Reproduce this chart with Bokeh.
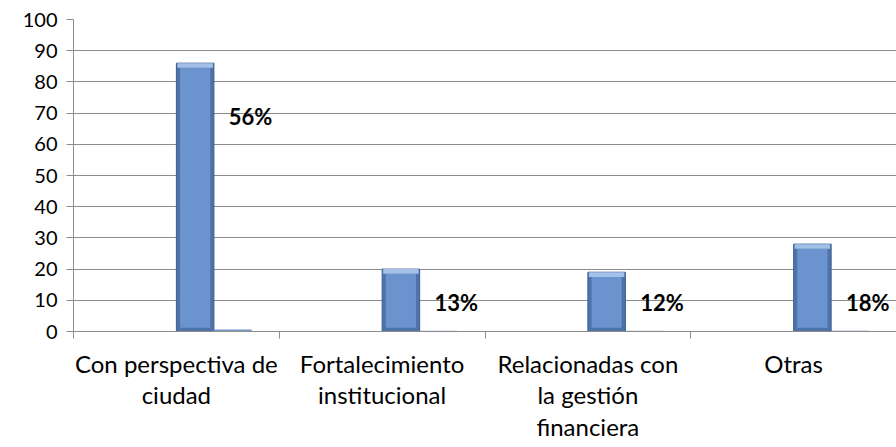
from bokeh.plotting import figure
from bokeh.models import Range1d, FixedTicker
from bokeh.embed import file_html
from bokeh.resources import INLINE
from bokeh.core.properties import value

# ---- data ----
categories = ["Con perspectiva de\nciudad", "Fortalecimiento\ninstitucional",
              "Relacionadas con\nla gestión\nfinanciera", "Otras"]
counts = [86, 20, 19, 28]
shares = [0.56, 0.13, 0.12, 0.18]
share_label_y = [69, 9.3, 9.3, 9.3]
y_ticks = list(range(0, 101, 10))

FONT = "Lato"
GRID = "#8c8c8c"

n = len(categories)
centers = [i + 0.5 for i in range(n)]
bw = 0.1824  # bar width in category units

p = figure(width=896, height=447, output_backend="svg", toolbar_location=None,
           x_range=Range1d(0, n), y_range=Range1d(0, 100),
           min_border_left=73, min_border_right=0, min_border_top=19,
           min_border_bottom=116)
p.outline_line_color = None
p.background_fill_color = "white"
p.border_fill_color = "white"

# grid
p.xgrid.visible = False
p.ygrid.ticker = FixedTicker(ticks=y_ticks)
p.ygrid.grid_line_color = GRID
p.ygrid.grid_line_width = 1

# y axis
p.yaxis.ticker = FixedTicker(ticks=y_ticks)
p.yaxis.axis_line_color = GRID
p.yaxis.major_tick_line_color = GRID
p.yaxis.major_tick_out = 7
p.yaxis.major_tick_in = 0
p.yaxis.minor_tick_line_color = None
p.yaxis.major_label_standoff = 9
p.yaxis.major_label_text_font = FONT
p.yaxis.major_label_text_font_size = "20px"
p.yaxis.major_label_text_color = "black"

# x axis
p.xaxis.ticker = FixedTicker(ticks=centers, minor_ticks=list(range(n + 1)))
p.xaxis.major_label_overrides = {c: lab for c, lab in zip(centers, categories)}
p.xaxis.axis_line_color = GRID
p.xaxis.major_tick_line_color = None
p.xaxis.minor_tick_line_color = GRID
p.xaxis.minor_tick_out = 7
p.xaxis.minor_tick_in = 0
p.xaxis.major_label_standoff = 10
p.xaxis.major_label_text_font = FONT
p.xaxis.major_label_text_font_size = "24px"
p.xaxis.major_label_text_color = "black"
p.xaxis.major_label_text_line_height = 1.1

# bars (count series), with a simple bevel look
bx = [c + bw / 2 for c in centers]
p.vbar(x=bx, top=counts, bottom=0, width=bw, fill_color="#4d73aa",
       line_color="#3d5d8f", line_width=1)
inset = 0.018
p.vbar(x=bx, top=[v - 1.5 for v in counts], bottom=1.2, width=bw - 2 * inset,
       fill_color="#6b94ce", line_color=None)
p.vbar(x=bx, top=counts, bottom=[v - 1.5 for v in counts], width=bw - 0.01,
       fill_color="#a3c0e8", line_color=None)

# tiny share series bars
sx = [c + bw * 1.5 for c in centers]
p.vbar(x=sx, top=shares, bottom=0, width=bw, fill_color="#7d9ccc",
       line_color="#6f8fc0", line_width=0.5)

# share labels
p.text(x=[c + 0.255 for c in centers], y=share_label_y,
       text=[f"{round(s * 100)}%" for s in shares],
       text_font=value(FONT), text_font_style="bold", text_font_size="22px",
       text_align="left", text_baseline="middle", text_color="black")

open("out.html", "w").write(file_html(p, INLINE))
